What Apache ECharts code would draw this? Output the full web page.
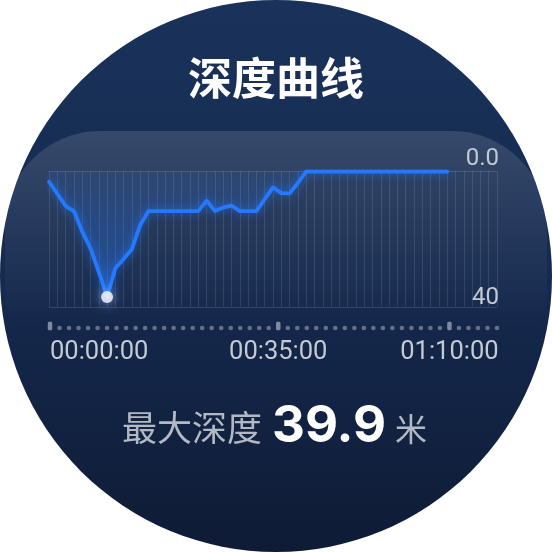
<!DOCTYPE html>
<html>
<head>
<meta charset="utf-8">
<script src="https://cdn.jsdelivr.net/npm/echarts@6/dist/echarts.min.js"></script>
<style>
html,body{margin:0;padding:0;background:#ffffff;}
#c{width:552px;height:552px;}
</style>
</head>
<body>
<div id="c"></div>
<script>
// ---- data ----
const title = '深度曲线';
const maxLabel = '最大深度';
const unitLabel = '米';
// depth (m) per sample slot
const depthValues = [3.4, 7.2, 11.1, 12.7, 19.2, 24.5, 32.0, 39.9, 30.8, 27.9, 24.7, 17.1, 12.7,
  12.7, 12.7, 12.7, 12.7, 12.7, 12.7, 9.4, 12.7, 11.6, 11.0, 12.7, 12.7, 12.7, 8.9, 5.2, 7.0, 7.1,
  3.8, 0.2, 0.2, 0.2, 0.2, 0.2, 0.2, 0.2, 0.2, 0.2, 0.2, 0.2, 0.2, 0.2, 0.2, 0.2, 0.2, 0.2, 0.2];
const slotCount = 55;            // vertical grid slots
const yTickLabels = ['0.0', '40'];
const depthAxisMax = 43.1;
const dotCount = 48;              // timeline dots
const timeLabelIndex = [0, 24, 42];
const timeLabels = ['00:00:00', '00:35:00', '01:10:00'];

// ---- derived ----
const slots = Array.from({length: slotCount}, (_, i) => String(i));
const dotCats = Array.from({length: dotCount}, (_, i) => String(i));
const maxDepth = Math.max(...depthValues);
const maxIdx = depthValues.indexOf(maxDepth);
const dotData = dotCats.map((c, i) => {
  const major = timeLabelIndex.includes(i);
  return {
    value: [i, 1],
    symbol: major ? 'roundRect' : 'circle',
    symbolSize: major ? [4.5, 8.5] : [4.6, 4.6],
    symbolOffset: major ? [0, -2] : [0, 0],
    itemStyle: {color: major ? '#9aa2b0' : '#7a8598'}
  };
});

const chart = echarts.init(document.getElementById('c'), null, {renderer: 'canvas'});
chart.setOption({
  animation: false,
  backgroundColor: 'transparent',
  graphic: [
    {type: 'circle', shape: {cx: 276, cy: 276, r: 276}, z: -10,
      style: {fill: new echarts.graphic.LinearGradient(0, 0, 0, 1, [
        {offset: 0, color: '#1a325a'}, {offset: 0.5, color: '#152a4f'}, {offset: 1, color: '#0f1b35'}])}},
    {type: 'rect', shape: {x: 5, y: 131, width: 542, height: 260, r: 95}, z: -9,
      style: {fill: new echarts.graphic.LinearGradient(0, 0, 0, 1, [
        {offset: 0, color: 'rgba(255,255,255,0.13)'}, {offset: 0.75, color: 'rgba(255,255,255,0.0)'}])}},
    {type: 'text', x: 276, y: 78, z: 10,
      style: {text: title, fill: '#ffffff', font: 'bold 44px "Noto Sans CJK SC"', align: 'center', verticalAlign: 'middle'}},
    {type: 'text', x: 122, y: 428, z: 10,
      style: {text: maxLabel, fill: '#b3b9c4', font: '35px "Noto Sans CJK SC"', align: 'left', verticalAlign: 'middle'}},
    {type: 'text', x: 272, y: 427, z: 10,
      style: {text: maxDepth.toFixed(1), fill: '#ffffff', font: 'bold 51px Inter', align: 'left', verticalAlign: 'middle'}},
    {type: 'text', x: 395, y: 429, z: 10,
      style: {text: unitLabel, fill: '#b3b9c4', font: '32px "Noto Sans CJK SC"', align: 'left', verticalAlign: 'middle'}}
  ],
  grid: [
    {left: 49, top: 171, width: 448, height: 136},
    {left: 50, top: 318, width: 447, height: 20}
  ],
  xAxis: [
    {type: 'category', gridIndex: 0, data: slots, boundaryGap: false,
      axisLine: {show: false}, axisTick: {show: false}, axisLabel: {show: false},
      splitLine: {show: true, interval: 0, lineStyle: {color: 'rgba(255,255,255,0.11)', width: 1}}},
    {type: 'category', gridIndex: 1, data: dotCats, boundaryGap: false,
      axisLine: {show: false}, axisTick: {show: false}, splitLine: {show: false},
      axisLabel: {show: true, interval: (i) => timeLabelIndex.includes(i),
        formatter: (v, i) => timeLabels[timeLabelIndex.indexOf(Number(v))] || '',
        color: '#c5cad3', fontSize: 25.5, fontFamily: 'Roboto', margin: 2,
        alignMinLabel: 'left'}}
  ],
  yAxis: [
    {type: 'value', gridIndex: 0, inverse: true, min: 0, max: depthAxisMax, interval: depthAxisMax,
      position: 'right', axisLine: {show: false}, axisTick: {show: false},
      splitLine: {show: true, lineStyle: {color: 'rgba(255,255,255,0.13)', width: 1}},
      axisLabel: {inside: true, margin: -2, verticalAlign: 'bottom', color: '#c3c8d1', fontSize: 24,
        fontFamily: '"Liberation Sans Narrow", Roboto',
        formatter: (v) => (v === 0 ? yTickLabels[0] : '{b|' + yTickLabels[1] + '}'),
        rich: {b: {fontSize: 24, fontFamily: '"Liberation Sans Narrow", Roboto', color: '#c3c8d1', padding: [0, 0, -3, 0]}}}},
    {type: 'value', gridIndex: 1, min: 0, max: 2, show: false}
  ],
  series: [
    {type: 'line', xAxisIndex: 0, yAxisIndex: 0, data: depthValues, symbol: 'none', z: 3,
      lineStyle: {color: '#2479ff', width: 3.8, cap: 'round', join: 'round',
        shadowColor: 'rgba(36,121,255,0.7)', shadowBlur: 10},
      areaStyle: {color: new echarts.graphic.LinearGradient(0, 0, 0, 1, [
        {offset: 0, color: 'rgba(40,120,255,0.1)'}, {offset: 1, color: 'rgba(50,130,255,0.65)'}])}},
    {type: 'scatter', xAxisIndex: 0, yAxisIndex: 0, data: [[maxIdx, maxDepth]], z: 5,
      symbolSize: 12, itemStyle: {color: '#ffffff', shadowColor: 'rgba(140,185,255,1)', shadowBlur: 12}},
    {type: 'scatter', xAxisIndex: 1, yAxisIndex: 1, data: dotData, z: 3}
  ]
});
</script>
</body>
</html>
